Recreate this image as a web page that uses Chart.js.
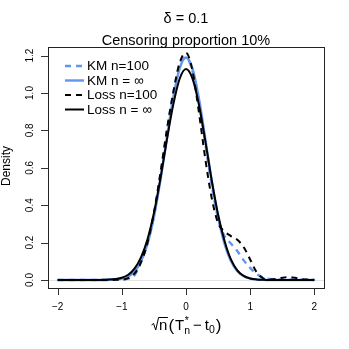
<!DOCTYPE html>
<html>
<head>
<meta charset="utf-8">
<script src="https://cdn.jsdelivr.net/npm/chart.js@4"></script>
<style>
html,body{margin:0;padding:0;background:#fff;}
#wrap{width:349px;height:349px;position:relative;}
</style>
</head>
<body>
<div id="wrap"><canvas id="c" width="349" height="349"></canvas></div>
<script>
// ---- data ----
const xGrid = [-2.0,-1.9,-1.8,-1.7,-1.6,-1.5,-1.4,-1.3,-1.2,-1.1,-1.0,-0.9,-0.8,-0.7,-0.6,-0.5,-0.4,-0.3,-0.2,-0.1,0.0,0.1,0.2,0.3,0.4,0.5,0.6,0.7,0.8,0.9,1.0,1.1,1.2,1.3,1.4,1.5,1.6,1.7,1.8,1.9,2.0];
const kmN100 = [0,0,0,0,0,0,0,0,0,0.001,0.002,0.007,0.026,0.1,0.2,0.345,0.55,0.785,0.995,1.15,1.19,1.12,0.955,0.73,0.51,0.33,0.235,0.195,0.155,0.105,0.065,0.032,0.014,0.006,0.003,0.002,0.003,0.002,0.001,0.001,0];
const kmInf  = [0,0,0,0,0,0,0,0,0.001,0.002,0.007,0.019,0.046,0.1,0.193,0.337,0.53,0.755,0.972,1.13,1.19,1.132,0.973,0.756,0.532,0.338,0.194,0.101,0.047,0.02,0.008,0.003,0.001,0,0,0,0,0,0,0,0];
const lossN100 = [0,0,0,0,0,0,0,0,0,0.001,0.002,0.01,0.035,0.095,0.2,0.36,0.57,0.8,1.0,1.16,1.215,1.12,0.9,0.65,0.44,0.305,0.26,0.235,0.215,0.175,0.11,0.042,0.01,0.003,0.005,0.012,0.016,0.012,0.005,0.002,0.001];
const lossInf = [0,0,0,0,0,0,0,0.001,0.002,0.005,0.012,0.028,0.062,0.122,0.218,0.358,0.54,0.745,0.935,1.075,1.128,1.078,0.94,0.745,0.535,0.35,0.21,0.11,0.052,0.022,0.008,0.003,0.001,0,0,0,0,0,0,0,0];
const xTicks = [-2,-1,0,1,2];
const yTicks = [0,0.2,0.4,0.6,0.8,1.0,1.2];
const yTickLabels = ["0.0","0.2","0.4","0.6","0.8","1.0","1.2"];
const xTickLabels = ["\u22122","\u22121","0","1","2"];
const legendLabels = ["KM n=100","KM n = \u221e","Loss n=100","Loss n = \u221e"];
const titleLine1 = "\u03b4 = 0.1";
const titleLine2 = "Censoring proportion 10%";
const yTitle = "Density";

const BLUE = "#6495ED";
const FONT = "'Liberation Sans', Arial, Helvetica, sans-serif";
const pts = arr => xGrid.map((x,i)=>({x:x,y:arr[i]}));

const seriesDefs = [
  {label:legendLabels[0], data:kmN100, color:BLUE, dash:[6,5], width:2.4, order:3},
  {label:legendLabels[1], data:kmInf, color:BLUE, dash:[], width:2.4, order:2},
  {label:legendLabels[2], data:lossN100, color:"#000", dash:[6,5], width:2, order:1},
  {label:legendLabels[3], data:lossInf, color:"#000", dash:[], width:2, order:0}
];

const decor = {
  id:'decor',
  beforeDatasetsDraw(chart){
    const ctx = chart.ctx, ca = chart.chartArea, ys = chart.scales.y;
    ctx.save();
    ctx.strokeStyle = "#e3e3e3"; ctx.lineWidth = 1;
    const y0 = Math.round(ys.getPixelForValue(0)) + 0.5;
    ctx.beginPath(); ctx.moveTo(ca.left, y0); ctx.lineTo(ca.right, y0); ctx.stroke();
    ctx.restore();
  },
  afterDraw(chart){
    const ctx = chart.ctx, ca = chart.chartArea, xs = chart.scales.x, ys = chart.scales.y;
    ctx.save();
    ctx.strokeStyle = "#222"; ctx.lineWidth = 1;
    ctx.strokeRect(Math.round(ca.left)+0.5, Math.round(ca.top)+0.5, Math.round(ca.right-ca.left), Math.round(ca.bottom-ca.top));
    ctx.strokeStyle = "#333";
    ctx.beginPath();
    xTicks.forEach(v=>{ const px = Math.round(xs.getPixelForValue(v))+0.5; ctx.moveTo(px, ca.bottom); ctx.lineTo(px, ca.bottom+7); });
    yTicks.forEach(v=>{ const py = Math.round(ys.getPixelForValue(v))+0.5; ctx.moveTo(ca.left, py); ctx.lineTo(ca.left-7, py); });
    ctx.stroke();
    ctx.fillStyle = "#000";
    ctx.font = "10px " + FONT; ctx.textAlign = "center"; ctx.textBaseline = "middle";
    xTicks.forEach((v,i)=>{ ctx.fillText(xTickLabels[i], xs.getPixelForValue(v), 307); });
    yTicks.forEach((v,i)=>{
      ctx.save(); ctx.translate(30, ys.getPixelForValue(v)); ctx.rotate(-Math.PI/2);
      ctx.fillText(yTickLabels[i], 0, 0); ctx.restore();
    });
    ctx.font = "12px " + FONT;
    ctx.save(); ctx.translate(7, 166); ctx.rotate(-Math.PI/2); ctx.fillText(yTitle, 0, 0); ctx.restore();
    const cx = (ca.left + ca.right)/2;
    ctx.textBaseline = "alphabetic";
    ctx.font = "14.5px " + FONT;
    ctx.fillText(titleLine1, cx, 23);
    ctx.fillText(titleLine2, cx, 45);
    ctx.textAlign = "left"; ctx.textBaseline = "middle";
    ctx.font = "13.5px " + FONT;
    const rows = [66, 80.5, 95, 109.5];
    seriesDefs.forEach((s,i)=>{
      ctx.strokeStyle = s.color; ctx.lineWidth = s.width; ctx.setLineDash(s.dash);
      ctx.beginPath(); ctx.moveTo(65, rows[i]); ctx.lineTo(84, rows[i]); ctx.stroke();
      ctx.setLineDash([]);
      ctx.fillStyle = "#000";
      ctx.fillText(s.label, 87, rows[i]+0.5);
    });
    drawXTitle(ctx, cx + 0.5, 330);
    ctx.restore();
  }
};

function drawXTitle(ctx, cx, base){
  const big = "15px " + FONT, par = "17px " + FONT, small = "10.5px " + FONT;
  ctx.textAlign = "left"; ctx.textBaseline = "alphabetic";
  ctx.font = big; const wn = ctx.measureText("n").width, wT = ctx.measureText("T").width,
    wt = ctx.measureText("t").width, wm = ctx.measureText("\u2212").width;
  ctx.font = par; const wp1 = ctx.measureText("(").width, wp2 = ctx.measureText(")").width;
  ctx.font = small; const wsn = ctx.measureText("n").width, ws0 = ctx.measureText("0").width, wst = ctx.measureText("*").width;
  const wrad = 7.5;
  const gap = 3;
  const total = wrad + wn + 1 + wp1 + 1 + wT + Math.max(wsn, wst) + gap + wm + gap + wt + ws0 + 1 + wp2;
  let x = cx - total/2;
  ctx.strokeStyle = "#000"; ctx.lineWidth = 1; ctx.setLineDash([]);
  const top = base - 12.5;
  ctx.beginPath();
  ctx.moveTo(x, base - 5); ctx.lineTo(x+2, base-6.5); ctx.lineTo(x+4.2, base); ctx.lineTo(x+7, top); ctx.lineTo(x+wrad+wn+0.5, top);
  ctx.stroke();
  x += wrad;
  ctx.font = big; ctx.fillText("n", x, base); x += wn + 1;
  ctx.font = par; ctx.fillText("(", x, base+1); x += wp1 + 1;
  ctx.font = big; ctx.fillText("T", x, base); x += wT;
  ctx.font = small; ctx.fillText("*", x+0.5, base-6.5); ctx.fillText("n", x, base+4); x += Math.max(wsn, wst) + gap;
  ctx.font = big; ctx.fillText("\u2212", x, base); x += wm + gap;
  ctx.fillText("t", x, base); x += wt;
  ctx.font = small; ctx.fillText("0", x, base+3); x += ws0 + 1;
  ctx.font = par; ctx.fillText(")", x, base+1);
}

new Chart(document.getElementById('c'), {
  type:'line',
  data:{ datasets: seriesDefs.map(s=>({
    label:s.label, data:pts(s.data), borderColor:s.color, backgroundColor:s.color,
    borderWidth:s.width, borderDash:s.dash, pointRadius:0, fill:false,
    cubicInterpolationMode:'monotone', order:s.order, borderCapStyle:'butt'
  }))},
  options:{
    responsive:false, animation:false, devicePixelRatio:1,
    layout:{padding:{top:47, right:25, left:0, bottom:0}},
    plugins:{legend:{display:false}, tooltip:{enabled:false}, title:{display:false}},
    scales:{
      x:{type:'linear', min:-2.151, max:2.151, grid:{display:false}, border:{display:false},
         ticks:{display:false}, afterFit:s=>{s.height=61;}},
      y:{type:'linear', min:-0.0428, max:1.246, grid:{display:false}, border:{display:false},
         ticks:{display:false}, afterFit:s=>{s.width=48;}}
    }
  },
  plugins:[decor]
});
</script>
</body>
</html>
